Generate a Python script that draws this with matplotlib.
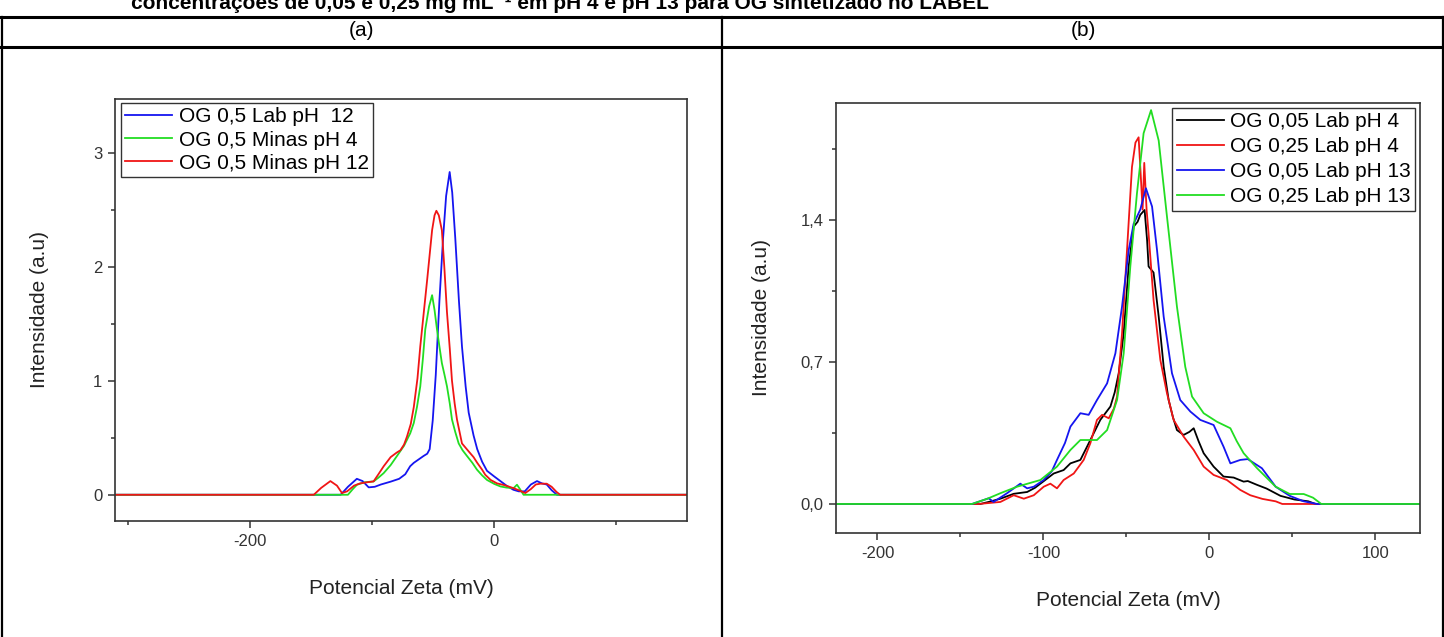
import matplotlib
matplotlib.use("Agg")
import matplotlib.pyplot as plt
from matplotlib.lines import Line2D
from matplotlib.ticker import MultipleLocator, FuncFormatter

plt.rcParams['font.family'] = ['Liberation Sans', 'DejaVu Sans']
plt.rcParams['axes.unicode_minus'] = False

titulo = "concentrações de 0,05 e 0,25 mg mL⁻¹ em pH 4 e pH 13 para OG sintetizado no LABEL"
rotulo_x = "Potencial Zeta (mV)"
rotulo_y = "Intensidade (a.u)"

# ---- painel (a) ----
a_lab12_x = [-310, -126, -120, -112.7, -108, -103, -98, -93, -85, -78, -73, -69, -66, -62, -58, -55,
             -53, -50.5, -48, -45, -42, -39.5, -36.6, -34.5, -32, -29, -26.5, -23.5, -21, -17, -14,
             -10, -6, 0, 5, 10, 15.6, 20, 25, 30, 35, 39, 43, 47, 51.4, 158]
a_lab12_y = [0, 0, 0.07, 0.14, 0.12, 0.065, 0.07, 0.09, 0.115, 0.14, 0.18, 0.25, 0.28, 0.31, 0.34, 0.36,
             0.40, 0.65, 1.05, 1.7, 2.25, 2.62, 2.83, 2.65, 2.25, 1.7, 1.3, 0.95, 0.72, 0.52, 0.40,
             0.29, 0.21, 0.16, 0.12, 0.08, 0.044, 0.03, 0.03, 0.09, 0.12, 0.10, 0.09, 0.04, 0, 0]

a_minas4_x = [-310, -120, -116, -112.6, -106, -99, -95, -90.7, -85, -79.8, -74, -68.9, -66, -63.4,
              -60.7, -58.5, -56.6, -53.5, -51, -49, -47, -45, -43, -40.8, -38.8, -36.5, -34.7, -32,
              -29.2, -26, -22.4, -18, -14.2, -10, -6, 0, 5, 10, 15.8, 18.6, 21, 24, 158]
a_minas4_y = [0, 0, 0.05, 0.088, 0.11, 0.117, 0.15, 0.19, 0.26, 0.34, 0.43, 0.54, 0.63, 0.77,
              0.95, 1.2, 1.45, 1.65, 1.75, 1.62, 1.45, 1.3, 1.155, 1.05, 0.95, 0.8, 0.66, 0.55,
              0.45, 0.39, 0.34, 0.28, 0.22, 0.17, 0.13, 0.095, 0.073, 0.063, 0.058, 0.088, 0.05, 0, 0]

a_minas12_x = [-310, -148, -142, -134.4, -129, -124.9, -120.7, -115, -110, -104, -99, -95, -90.7, -85,
               -80, -77, -74, -71.6, -68.5, -66, -63, -60.7, -58, -55, -51, -49, -47.5, -45.5, -43,
               -41, -38.8, -36.5, -34.7, -32.5, -30.6, -26.5, -21, -17, -14, -10, -7.4, -3, 2.2, 8,
               15.8, 20, 25.4, 30, 34, 37.7, 43, 47, 51, 54, 158]
a_minas12_y = [0, 0, 0.06, 0.12, 0.08, 0.015, 0.03, 0.08, 0.10, 0.11, 0.117, 0.18, 0.25, 0.33,
               0.37, 0.39, 0.44, 0.51, 0.62, 0.77, 1.02, 1.30, 1.58, 1.89, 2.32, 2.45, 2.49, 2.45, 2.32,
               2.0, 1.6, 1.28, 1.0, 0.8, 0.66, 0.45, 0.38, 0.33, 0.28, 0.22, 0.175, 0.13, 0.10, 0.085,
               0.058, 0.04, 0.015, 0.05, 0.09, 0.097, 0.097, 0.07, 0.025, 0, 0]

# ---- painel (b) ----
b_005_4_x = [-225, -138, -132, -125.9, -117.9, -109.8, -105, -101.8, -97, -93.8, -87.8, -83.7, -77.7,
             -73.7, -69.7, -65.7, -59.6, -57, -54.6, -51.6, -48.6, -45.6, -43.2, -41.6, -39, -37.5,
             -36.6, -33.6, -30.5, -27.5, -24.5, -22, -19.5, -15.5, -12, -9.4, -6.5, -3.4, 2.6, 8.6,
             14.7, 20.7, 23.2, 28.8, 34.5, 42.9, 51.3, 59.7, 64, 127]
b_005_4_y = [0, 0, 0.012, 0.026, 0.05, 0.059, 0.08, 0.10, 0.13, 0.15, 0.167, 0.20, 0.217,
             0.282, 0.348, 0.414, 0.48, 0.55, 0.644, 0.84, 1.17, 1.366, 1.39, 1.424, 1.448, 1.3,
             1.17, 1.14, 0.923, 0.676, 0.512, 0.43, 0.364, 0.34, 0.355, 0.373, 0.31, 0.25, 0.184, 0.135,
             0.13, 0.11, 0.113, 0.094, 0.076, 0.04, 0.022, 0.013, 0, 0]

b_025_4_x = [-225, -139, -125.9, -117.9, -111.8, -105.8, -99.8, -95.8, -91.8, -87.8, -81.7, -75.7,
             -71.7, -67.7, -64.6, -60.6, -57.5, -55.6, -52.6, -49.6, -46.6, -44.5, -42.6, -41.2,
             -40.2, -39.2, -37.8, -36.6, -33.6, -29.5, -25.5, -21.5, -15.5, -9.4, -3.4, 2.6, 10.6,
             18.7, 24.7, 32, 40, 44, 127]
b_025_4_y = [0, 0, 0.01, 0.043, 0.026, 0.043, 0.085, 0.10, 0.077, 0.118, 0.15, 0.217,
             0.299, 0.414, 0.439, 0.422, 0.47, 0.529, 0.84, 1.25, 1.66, 1.78, 1.806, 1.6,
             1.45, 1.68, 1.45, 1.333, 1.005, 0.709, 0.545, 0.414, 0.332, 0.266, 0.184, 0.143, 0.118,
             0.069, 0.043, 0.025, 0.013, 0, 0]

b_005_13_x = [-225, -143, -133, -130, -121.9, -113.9, -109.8, -105.8, -99.8, -95, -91.8, -87, -83.7,
              -77.7, -72.7, -67.7, -61.6, -56.6, -52.6, -48.6, -45.6, -41.6, -38.2, -34.5, -31.5,
              -27.5, -22.5, -17.5, -11.4, -5.4, 2.6, 8.6, 12.7, 18.7, 23.2, 31.7, 40, 48.5, 56.9, 65, 127]
b_005_13_y = [0, 0, 0.028, 0.01, 0.053, 0.10, 0.077, 0.085, 0.118, 0.16, 0.217, 0.30, 0.381,
              0.447, 0.439, 0.512, 0.594, 0.742, 0.972, 1.25, 1.38, 1.45, 1.555, 1.465, 1.25,
              0.923, 0.644, 0.512, 0.455, 0.414, 0.389, 0.282, 0.20, 0.217, 0.221, 0.176, 0.085, 0.04,
              0.013, 0, 0]

b_025_13_x = [-225, -143, -134, -125.9, -115.9, -101.8, -91.8, -83.7, -77.7, -67.7, -61.6, -55.6,
              -51.6, -47.6, -43.6, -39.6, -35.1, -30.5, -25.5, -19.5, -14.5, -10.4, -3.4, 4.6, 12.7,
              16.5, 20.7, 28.8, 40, 48.5, 56.9, 62.5, 67.5, 127]
b_025_13_y = [0, 0, 0.025, 0.053, 0.085, 0.118, 0.184, 0.266, 0.315, 0.315, 0.364, 0.512,
              0.742, 1.17, 1.53, 1.826, 1.94, 1.79, 1.415, 0.972, 0.676, 0.529, 0.447, 0.405, 0.373,
              0.31, 0.25, 0.176, 0.085, 0.049, 0.049, 0.031, 0, 0]

azul = '#1515f0'
verde = '#22dd22'
vermelho = '#f01515'
cinza = '#333333'

fig = plt.figure(figsize=(14.44, 6.37), dpi=100)
W, H = 1444, 637

# titulo (cortado no topo, como no original) e tabela
fig.text(560 / W, 1 - 9 / H, titulo, ha='center', va='baseline',
         fontsize=15, fontweight='bold')

def linha(x0, y0, x1, y1, lw):
    fig.add_artist(Line2D([x0 / W, x1 / W], [1 - y0 / H, 1 - y1 / H], color='black', lw=lw))

linha(0, 17, W, 17, 2.2)
linha(0, 47, W, 47, 2.2)
linha(1.5, 17, 1.5, H, 1.6)
linha(722, 17, 722, H, 1.6)
linha(1442.5, 17, 1442.5, H, 1.6)
fig.text(361 / W, 1 - 31 / H, "(a)", ha='center', va='center', fontsize=15)
fig.text(1083 / W, 1 - 31 / H, "(b)", ha='center', va='center', fontsize=15)


def estilo(ax, pad_y):
    for s in ax.spines.values():
        s.set_color(cinza)
        s.set_linewidth(1.2)
    ax.tick_params(which='both', direction='out', color=cinza, width=1.1,
                   labelcolor=cinza, labelsize=12, pad=4)
    ax.tick_params(which='major', length=5)
    ax.tick_params(which='minor', length=3)
    ax.set_xlabel(rotulo_x, fontsize=15, color='#222222', labelpad=22)
    ax.set_ylabel(rotulo_y, fontsize=15, color='#222222', labelpad=pad_y)


ax1 = fig.add_axes([115 / W, (H - 521) / H, 572 / W, 422 / H])
ax1.plot(a_lab12_x, a_lab12_y, color=azul, lw=1.3, label='OG 0,5 Lab pH  12')
ax1.plot(a_minas4_x, a_minas4_y, color=verde, lw=1.3, label='OG 0,5 Minas pH 4')
ax1.plot(a_minas12_x, a_minas12_y, color=vermelho, lw=1.3, label='OG 0,5 Minas pH 12')
ax1.set_xlim(-311, 158)
ax1.set_ylim(-0.23, 3.47)
ax1.xaxis.set_major_locator(MultipleLocator(200))
ax1.xaxis.set_minor_locator(MultipleLocator(100))
ax1.yaxis.set_major_locator(MultipleLocator(1))
ax1.yaxis.set_minor_locator(MultipleLocator(0.5))
ax1.yaxis.set_major_formatter(FuncFormatter(lambda v, p: f"{v:.0f}"))
estilo(ax1, 32)
ax1.legend(loc='upper left', bbox_to_anchor=(0.01, 0.99), borderaxespad=0, fontsize=15,
           frameon=True, fancybox=False, edgecolor=cinza, framealpha=1,
           handlelength=2.26, handletextpad=0.32, labelspacing=0.2, borderpad=0.2)

ax2 = fig.add_axes([836 / W, (H - 533) / H, 584 / W, 430 / H])
ax2.plot(b_005_4_x, b_005_4_y, color='black', lw=1.3, label='OG 0,05 Lab pH 4')
ax2.plot(b_025_4_x, b_025_4_y, color=vermelho, lw=1.3, label='OG 0,25 Lab pH 4')
ax2.plot(b_005_13_x, b_005_13_y, color=azul, lw=1.3, label='OG 0,05 Lab pH 13')
ax2.plot(b_025_13_x, b_025_13_y, color=verde, lw=1.3, label='OG 0,25 Lab pH 13')
ax2.set_xlim(-225, 127)
ax2.set_ylim(-0.143, 1.975)
ax2.xaxis.set_major_locator(MultipleLocator(100))
ax2.xaxis.set_minor_locator(MultipleLocator(50))
ax2.yaxis.set_major_locator(MultipleLocator(0.7))
ax2.yaxis.set_minor_locator(MultipleLocator(0.35))
ax2.yaxis.set_major_formatter(FuncFormatter(lambda v, p: f"{v:.1f}".replace('.', ',')))
estilo(ax2, 21)
ax2.legend(loc='upper right', bbox_to_anchor=(0.992, 0.988), borderaxespad=0, fontsize=15,
           frameon=True, fancybox=False, edgecolor=cinza, framealpha=1,
           handlelength=2.26, handletextpad=0.32, labelspacing=0.29, borderpad=0.2)

fig.savefig('out.png', dpi=100)
